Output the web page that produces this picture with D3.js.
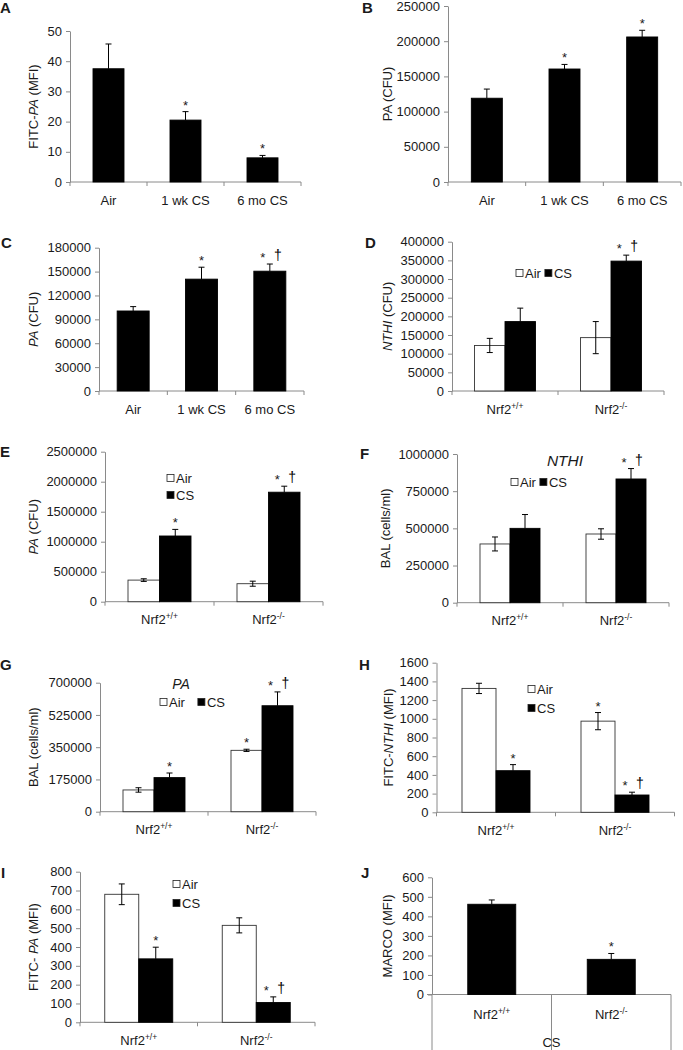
<!DOCTYPE html>
<html><head><meta charset="utf-8">
<script src="https://cdn.jsdelivr.net/npm/d3@7"></script>
<style>
body{margin:0;background:#fff;}
svg text{font-family:Arial,"Liberation Sans",sans-serif;fill:#1a1a1a;}
</style></head><body>
<svg id="fig" width="683" height="1050"></svg>
<script>
// ---------------- DATA ----------------
const catsTime = ["Air", "1 wk CS", "6 mo CS"];
const catsNrf = ["Nrf2+/+", "Nrf2-/-"];

// A
const ticksA = [0, 10, 20, 30, 40, 50];
const valsA = [37.5, 20.5, 8];
const errA = [8.2, 2.8, 0.8];
const sigA = ["", "*", "*"];
// B
const ticksB = [0, 50000, 100000, 150000, 200000, 250000];
const valsB = [119000, 160500, 206000];
const errB = [13000, 6500, 9500];
const sigB = ["", "*", "*"];
// C
const ticksC = [0, 30000, 60000, 90000, 120000, 150000, 180000];
const valsC = [100500, 140500, 150500];
const errC = [5500, 15000, 9000];
const sigC = ["", "*", "*†"];
// D
const ticksD = [0, 50000, 100000, 150000, 200000, 250000, 300000, 350000, 400000];
const airD = [122000, 143000];
const airErrD = [19000, 43000];
const csD = [186000, 348000];
const csErrD = [36000, 16000];
const sigAirD = ["", ""];
const sigCsD = ["", "*†"];
// E
const ticksE = [0, 500000, 1000000, 1500000, 2000000, 2500000];
const airE = [360000, 300000];
const airErrE = [22000, 42000];
const csE = [1095000, 1825000];
const csErrE = [110000, 100000];
const sigAirE = ["", ""];
const sigCsE = ["*", "*†"];
// F
const ticksF = [0, 250000, 500000, 750000, 1000000];
const airF = [395000, 462000];
const airErrF = [47000, 35000];
const csF = [500000, 832000];
const csErrF = [93000, 70000];
const sigAirF = ["", ""];
const sigCsF = ["", "*†"];
// G
const ticksG = [0, 175000, 350000, 525000, 700000];
const airG = [118000, 333000];
const airErrG = [12000, 6000];
const csG = [185000, 575000];
const csErrG = [25000, 75000];
const sigAirG = ["", "*"];
const sigCsG = ["*", "*†"];
// H
const ticksH = [0, 200, 400, 600, 800, 1000, 1200, 1400, 1600];
const airH = [1325, 975];
const airErrH = [55, 92];
const csH = [445, 185];
const csErrH = [65, 30];
const sigAirH = ["", "*"];
const sigCsH = ["*", "*†"];
// I
const ticksI = [0, 100, 200, 300, 400, 500, 600, 700, 800];
const airI = [680, 515];
const airErrI = [55, 40];
const csI = [337, 105];
const csErrI = [62, 30];
const sigAirI = ["", ""];
const sigCsI = ["*", "*†"];
// J
const ticksJ = [0, 100, 200, 300, 400, 500, 600];
const valsJ = [462, 180];
const errJ = [22, 30];
const sigJ = ["", "*"];
const outerCatJ = "CS";

const legendNames = ["Air", "CS"];

// ---------------- DRAWING ----------------
const svg = d3.select("#fig");
const AXIS = "#8a8a8a";
const FS = 13;

function drawPanel(cfg) {
  const g = svg.append("g");
  const y = d3.scaleLinear().domain([0, cfg.ticks[cfg.ticks.length - 1]]).range([cfg.yBot, cfg.yTop]);
  const x = d3.scaleBand().domain(cfg.cats).range([cfg.x0, cfg.x1]).padding(0);

  // panel letter
  g.append("text").attr("x", cfg.letter[1]).attr("y", cfg.letter[2])
    .attr("font-size", 15).attr("font-weight", "bold").attr("fill", "#111").text(cfg.letter[0]);

  // y axis
  const ya = g.append("g").attr("transform", `translate(${cfg.x0},0)`)
    .call(d3.axisLeft(y).tickValues(cfg.ticks).tickSize(4).tickSizeOuter(0).tickPadding(4).tickFormat(d3.format("d")));
  ya.select(".domain").attr("stroke", AXIS);
  ya.selectAll(".tick line").attr("stroke", AXIS);
  ya.selectAll(".tick text").attr("font-size", FS).attr("font-family", "Arial, 'Liberation Sans', sans-serif").attr("fill", "#1a1a1a");

  // x axis line + boundary ticks
  const xl = cfg.extendLeft || 0;
  g.append("line").attr("x1", cfg.x0 - xl).attr("x2", cfg.x1).attr("y1", cfg.yBot).attr("y2", cfg.yBot).attr("stroke", AXIS);
  const bounds = cfg.cats.map(c => x(c)).concat([x.range()[1]]);
  const tickLen = cfg.multi ? (1050 - cfg.yBot) : 4;
  g.selectAll(".xb").data(bounds).enter().append("line")
    .attr("x1", d => d).attr("x2", d => d).attr("y1", cfg.yBot).attr("y2", cfg.yBot + tickLen).attr("stroke", AXIS);

  // x labels
  cfg.cats.forEach(c => {
    const m = c.match(/^(Nrf2)(.*)$/);
    const t = g.append("text").attr("x", x(c) + x.bandwidth() / 2).attr("y", cfg.yBot + (cfg.multi ? 24 : 22.5))
      .attr("text-anchor", "middle").attr("font-size", FS);
    if (m) {
      t.append("tspan").text(m[1]);
      t.append("tspan").attr("font-size", 8.5).attr("dy", -5).text(m[2]);
    } else t.text(c);
  });
  if (cfg.multi) {
    g.append("text").attr("x", (cfg.x0 + cfg.x1) / 2).attr("y", 1047).attr("text-anchor", "middle")
      .attr("font-size", FS).text(cfg.multi);
  }

  // y label
  const yl = g.append("text").attr("transform", `translate(${cfg.ylabX},${(cfg.yTop + cfg.yBot) / 2}) rotate(-90)`)
    .attr("text-anchor", "middle").attr("dy", "0.36em").attr("font-size", FS);
  cfg.ylab.forEach(p => {
    const s = yl.append("tspan").text(p[0]);
    if (p[1]) s.attr("font-style", "italic");
  });

  // bars
  const n = cfg.series.length;
  cfg.series.forEach((s, si) => {
    const off = n === 1 ? -cfg.barW / 2 : (si === 0 ? -cfg.barW : 0);
    cfg.cats.forEach((c, i) => {
      const cx = x(c) + x.bandwidth() / 2 + off;
      const v = s.vals[i], e = s.errs[i];
      g.append("rect").attr("x", cx).attr("y", y(v)).attr("width", cfg.barW).attr("height", y(0) - y(v))
        .attr("fill", s.fill).attr("stroke", s.fill === "#fff" ? "#333" : "#000").attr("stroke-width", 0.9);
      const mx = cx + cfg.barW / 2;
      const lo = s.fill === "#fff" ? v - e : v;
      g.append("line").attr("x1", mx).attr("x2", mx).attr("y1", y(lo)).attr("y2", y(v + e)).attr("stroke", "#000").attr("stroke-width", 1);
      g.append("line").attr("x1", mx - 3).attr("x2", mx + 3).attr("y1", y(v + e)).attr("y2", y(v + e)).attr("stroke", "#000").attr("stroke-width", 1);
      if (s.fill === "#fff") {
        g.append("line").attr("x1", mx - 3).attr("x2", mx + 3).attr("y1", y(v - e)).attr("y2", y(v - e)).attr("stroke", "#000").attr("stroke-width", 1);
      }
      const sg = s.sigs[i];
      const by = y(v + e) - 3;
      if (sg.includes("†")) {
        g.append("text").attr("x", mx - 7).attr("y", by + 1).attr("text-anchor", "middle").attr("font-size", 13).attr("fill", "#000").text("*");
        g.append("text").attr("x", mx + 8).attr("y", by - 1).attr("text-anchor", "middle").attr("font-size", 14).attr("fill", "#000")
          .style("fill", "#000").text("†");
      } else if (sg.includes("*")) {
        g.append("text").attr("x", mx).attr("y", by + 1).attr("text-anchor", "middle").attr("font-size", 13).attr("fill", "#000").text("*");
      }
    });
  });

  // legend
  if (cfg.legend) {
    const L = cfg.legend;
    let cx = L.x, cy = L.y;
    legendNames.forEach((name, i) => {
      if (L.rows && i > 0) { cx = L.x; cy = L.y + L.dy * i; }
      g.append("rect").attr("x", cx).attr("y", cy - 3.5).attr("width", 7).attr("height", 7)
        .attr("fill", i === 0 ? "#fff" : "#000").attr("stroke", "#222").attr("stroke-width", 0.8);
      const t = g.append("text").attr("x", cx + 9).attr("y", cy + 4.7).attr("font-size", FS).text(name);
      cx = cx + 9 + t.node().getComputedTextLength() + (L.gap || 3);
    });
  }

  // title
  if (cfg.title) {
    g.append("text").attr("x", cfg.title.x).attr("y", cfg.title.y).attr("text-anchor", "middle")
      .attr("font-size", cfg.title.fs).attr("font-style", "italic").text(cfg.title.t);
  }
}

const W = "#fff", K = "#000";

drawPanel({letter: ["A", 0, 13], cats: catsTime, ticks: ticksA, x0: 70, x1: 301, yTop: 31, yBot: 182, barW: 31,
  ylabX: 33, ylab: [["FITC-"], ["PA", 1], [" (MFI)"]], series: [{vals: valsA, errs: errA, sigs: sigA, fill: K}]});
drawPanel({letter: ["B", 362, 13], cats: catsTime, ticks: ticksB, x0: 448, x1: 681, yTop: 6, yBot: 182, barW: 31,
  ylabX: 387, ylab: [["PA (CFU)"]], series: [{vals: valsB, errs: errB, sigs: sigB, fill: K}]});
drawPanel({letter: ["C", 1, 248], cats: catsTime, ticks: ticksC, x0: 99, x1: 304, yTop: 247.7, yBot: 391, barW: 32,
  ylabX: 33, ylab: [["PA", 1], [" (CFU)"]], series: [{vals: valsC, errs: errC, sigs: sigC, fill: K}]});
drawPanel({letter: ["D", 365, 248], cats: catsNrf, ticks: ticksD, x0: 452, x1: 664, yTop: 241.7, yBot: 391, barW: 30.5,
  ylabX: 387, ylab: [["NTHI", 1], [" (CFU)"]],
  series: [{vals: airD, errs: airErrD, sigs: sigAirD, fill: W}, {vals: csD, errs: csErrD, sigs: sigCsD, fill: K}],
  legend: {x: 516, y: 273, gap: 4}});
drawPanel({letter: ["E", 0, 457], cats: catsNrf, ticks: ticksE, x0: 105, x1: 323, yTop: 451.7, yBot: 601.7, barW: 31.5,
  ylabX: 33, ylab: [["PA", 1], [" (CFU)"]],
  series: [{vals: airE, errs: airErrE, sigs: sigAirE, fill: W}, {vals: csE, errs: csErrE, sigs: sigCsE, fill: K}],
  legend: {x: 167, y: 478, rows: true, dy: 17}});
drawPanel({letter: ["F", 360, 459], cats: catsNrf, ticks: ticksF, x0: 457, x1: 669, yTop: 454, yBot: 602.7, barW: 30,
  ylabX: 385, ylab: [["BAL (cells/ml)"]],
  series: [{vals: airF, errs: airErrF, sigs: sigAirF, fill: W}, {vals: csF, errs: csErrF, sigs: sigCsF, fill: K}],
  legend: {x: 511, y: 482, gap: 4}, title: {t: "NTHI", x: 565, y: 466, fs: 15.5}});
drawPanel({letter: ["G", 0, 670], cats: catsNrf, ticks: ticksG, x0: 100, x1: 316, yTop: 682.7, yBot: 811.7, barW: 31,
  ylabX: 33, ylab: [["BAL (cells/ml)"]],
  series: [{vals: airG, errs: airErrG, sigs: sigAirG, fill: W}, {vals: csG, errs: csErrG, sigs: sigCsG, fill: K}],
  legend: {x: 160, y: 702, gap: 13}, title: {t: "PA", x: 181, y: 689, fs: 14}});
drawPanel({letter: ["H", 359, 670], cats: catsNrf, ticks: ticksH, x0: 436.5, x1: 674.5, yTop: 662.7, yBot: 812.3, barW: 34,
  ylabX: 388, ylab: [["FITC-"], ["NTHI", 1], [" (MFI)"]],
  series: [{vals: airH, errs: airErrH, sigs: sigAirH, fill: W}, {vals: csH, errs: csErrH, sigs: sigCsH, fill: K}],
  legend: {x: 528, y: 689, rows: true, dy: 19}});
drawPanel({letter: ["I", 1, 878], cats: catsNrf, ticks: ticksI, x0: 80, x1: 315, yTop: 871.7, yBot: 1022.3, barW: 34,
  ylabX: 33, ylab: [["FITC- "], ["PA", 1], [" (MFI)"]],
  series: [{vals: airI, errs: airErrI, sigs: sigAirI, fill: W}, {vals: csI, errs: csErrI, sigs: sigCsI, fill: K}],
  legend: {x: 173, y: 884, rows: true, dy: 19}});
drawPanel({letter: ["J", 361, 878], cats: catsNrf, ticks: ticksJ, x0: 432, x1: 671, yTop: 877.3, yBot: 994.5, barW: 48,
  ylabX: 387, ylab: [["MARCO (MFI)"]], extendLeft: 5, multi: outerCatJ,
  series: [{vals: valsJ, errs: errJ, sigs: sigJ, fill: K}]});
</script>
</body></html>
